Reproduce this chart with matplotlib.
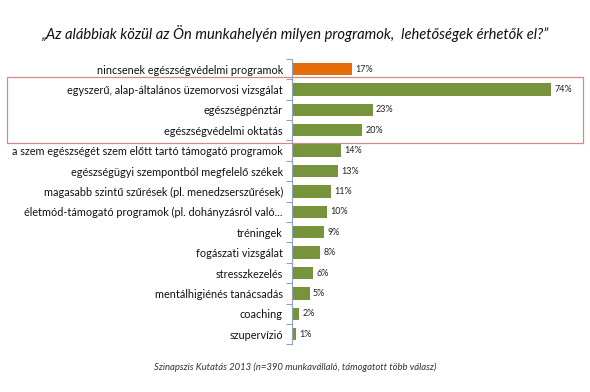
import matplotlib.pyplot as plt
from matplotlib.patches import Rectangle
import numpy as np

plt.rcParams['font.family'] = ['Lato', 'DejaVu Sans']

# Survey answers (share of respondents, %)
categories = [
    "nincsenek egészségvédelmi programok",
    "egyszerű, alap-általános üzemorvosi vizsgálat",
    "egészségpénztár",
    "egészségvédelmi oktatás",
    "a szem egészségét szem előtt tartó támogató programok",
    "egészségügyi szempontból megfelelő székek",
    "magasabb szintű szűrések (pl. menedzserszűrések)",
    "életmód-támogató programok (pl. dohányzásról való...",
    "tréningek",
    "fogászati vizsgálat",
    "stresszkezelés",
    "mentálhigiénés tanácsadás",
    "coaching",
    "szupervízió",
]
values = [17, 74, 23, 20, 14, 13, 11, 10, 9, 8, 6, 5, 2, 1]

title = "„Az alábbiak közül az Ön munkahelyén milyen programok,  lehetőségek érhetők el?”"
source = "Szinapszis Kutatás 2013 (n=390 munkavállaló, támogatott több válasz)"

orange = "#E46C0A"
green = "#77933C"
colors = [orange] + [green] * (len(values) - 1)

fig = plt.figure(figsize=(5.9, 3.92), dpi=100)
ax = fig.add_axes([292 / 590, 1 - 344.4 / 392, 280 / 590, 285.6 / 392])

y = np.arange(len(categories))
ax.barh(y, values, height=0.6, color=colors)
ax.set_ylim(len(categories) - 0.5, -0.5)
ax.set_xlim(0, 80)

for yi, v in zip(y, values):
    ax.text(v + 1.0, yi, f"{v}%", va="center", ha="left", fontsize=6.5, color="#222222")

ax.set_yticks(y)
ax.set_yticklabels(categories, fontsize=7.8, color="#111111")
ax.tick_params(axis="y", which="major", length=0, pad=6.5)
ax.set_yticks(np.arange(-0.5, len(categories)), minor=True)
ax.tick_params(axis="y", which="minor", length=4, color="#8EA2B8", width=0.8)
ax.set_xticks([])
for s in ["top", "right", "bottom"]:
    ax.spines[s].set_visible(False)
ax.spines["left"].set_color("#8EA2B8")
ax.spines["left"].set_linewidth(0.8)

# highlight box around rows 2-4
fig.patches.append(Rectangle((7 / 590, 1 - 142.7 / 392), (583 - 7) / 590, (142.7 - 77.3) / 392,
                             transform=fig.transFigure, fill=False,
                             edgecolor="#D08A8A", linewidth=0.9))

fig.text(0.5, 1 - 33 / 392, title, ha="center", va="center", fontsize=10.6,
         style="italic", color="#111111")
fig.text(0.5, 1 - 367 / 392, source, ha="center", va="center", fontsize=6.8,
         style="italic", color="#333333")

fig.savefig("out.png", dpi=100, facecolor="white")
